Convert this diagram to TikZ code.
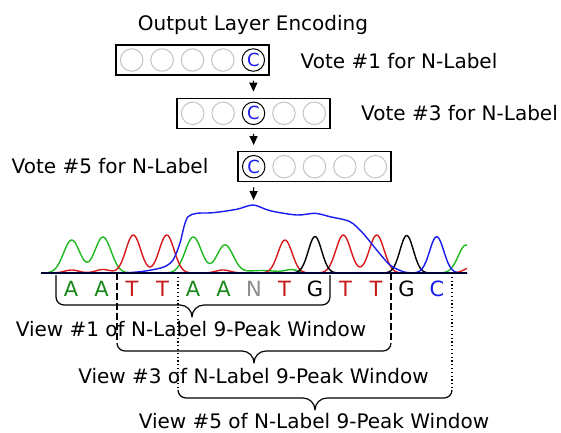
\documentclass[tikz,border=0pt]{standalone}
\usepackage{fontspec}
\setmainfont{DejaVu Sans}
\usetikzlibrary{arrows.meta,positioning,calc}

\definecolor{trgreen}{RGB}{30,185,30}
\definecolor{trred}{RGB}{215,25,25}
\definecolor{trblue}{RGB}{25,25,240}
\definecolor{bgreen}{RGB}{25,135,25}
\definecolor{bred}{RGB}{200,25,25}
\definecolor{bgray}{RGB}{140,140,140}
\definecolor{bblue}{RGB}{25,25,235}
\definecolor{cellgray}{RGB}{195,195,195}

\tikzset{
  lbl/.style={inner sep=0pt, anchor=base, font=\fontsize{20}{24}\selectfont},
  encbox/.style={draw, line width=1.3pt, minimum width=153pt, minimum height=30pt, inner sep=0pt},
  cell/.style={circle, draw=cellgray, line width=1pt, minimum size=22.5pt, inner sep=0pt},
  hit/.style={cell, draw=black, text=bblue, font=\fontsize{18}{20}\selectfont},
  basechar/.style={inner sep=0pt, anchor=base, font=\fontsize{21}{24}\selectfont},
  trace/.style={line width=1.4pt, line join=round},
  vote/.style={-{Triangle[width=8pt,length=9pt]}, line width=1.2pt},
  curl/.style={line width=1.2pt, line join=round},
}

\begin{document}
\begin{tikzpicture}[x=1pt, y=-1pt,
    declare function={pk(\t,\m,\a,\s)=\a*exp(-min(((\t-\m)/\s)^2,12));}]
    \useasboundingbox (0,0) rectangle (561,432);

    % output layer encodings
    \node[lbl] (title) at (253,30) {Output Layer Encoding};
    \node[encbox] (box1) at (192.5,60) {};
    \foreach \i in {1,...,4}
      \node[cell] (c1-\i) at ({131.7+30.4*(\i-1)},60) {};
    \node[hit] (c1-5) at (253.3,60) {C};
    \node[lbl] (vote1) at (399,68.3) {Vote \#1 for N-Label};

    \node[encbox] (box2) at (253.5,113.3) {};
    \foreach \i in {1,2,4,5}
      \node[cell] (c2-\i) at ({192.7+30.4*(\i-1)},113.3) {};
    \node[hit] (c2-3) at (253.5,113.3) {C};
    \node[lbl] (vote3) at (459.5,120.7) {Vote \#3 for N-Label};

    \node[encbox] (box3) at (314.5,166.7) {};
    \foreach \i in {2,...,5}
      \node[cell] (c3-\i) at ({253.7+30.4*(\i-1)},166.7) {};
    \node[hit] (c3-1) at (253.7,166.7) {C};
    \node[lbl] (vote5) at (110,173.3) {Vote \#5 for N-Label};

    \coordinate (top) at (253.5,205);
    \draw[vote, shorten <=5pt, shorten >=6pt] (c1-5 |- box1.south) -- (c2-3 |- box2.north);
    \draw[vote, shorten <=5pt, shorten >=6pt] (c2-3 |- box2.south) -- (c3-1 |- box3.north);
    \draw[vote, shorten <=5pt, shorten >=5pt] (c3-1 |- box3.south) -- (top);

    % traces
    \draw[trace, trgreen] plot[domain=41:467, samples=320] (\x, {273 - pk(\x,71.7,33,11.5) - pk(\x,103,36,11.5)
        - pk(\x,193.3,36,11.5) - pk(\x,225,28,11.5) - pk(\x,262,2.5,22) - pk(\x,291.7,3,9) - pk(\x,466,28,11)});
    \draw[trace, trred] plot[domain=41:467, samples=320] (\x, {273 - pk(\x,71.7,3,10) - pk(\x,103,3.5,10)
        - pk(\x,133.3,38,10.5) - pk(\x,166.7,38,10.5) - pk(\x,223,3,10) - pk(\x,285,33,10)
        - pk(\x,343.3,38,10.5) - pk(\x,376.7,38,10.5) - pk(\x,472,6,10)});
    \draw[trace, black] plot[domain=41:467, samples=320] (\x, {273 - pk(\x,315,36.5,9.5) - pk(\x,406.7,37.5,9.5)});
    \draw[trace, trblue] plot[smooth] coordinates {(41,273) (113,273) (140,271.7) (163,267.3) (173,260)
        (180,243) (184,226.7) (188,216.7) (196.7,213.3) (213,212.7) (236.7,209.3) (253.3,205) (270,210.7)
        (296.7,215) (315,213.3) (330,216.7) (350,221.7) (363,233.3) (376.7,250) (390,265) (403.3,271.7) (413,273)};
    \draw[trace, trblue] plot[domain=413:467, samples=60] (\x, {273 - pk(\x,436.7,36.3,10)});
    \draw[line width=1.3pt, black!80!blue] (41,273) -- (467,273);

    % base calls
    \foreach \b/\col [count=\i] in {A/bgreen,A/bgreen,T/bred,T/bred,A/bgreen,A/bgreen,N/bgray,
        T/bred,G/black,T/bred,T/bred,G/black,C/bblue}
      \node[basechar, text=\col] (s\i) at ({71+30.5*(\i-1)},296) {\b};

    % view #1
    \draw[curl] (56,275) -- (56,297) to[out=-90,in=180] (64,305) -- (180,305) to[out=0,in=90] (192,317)
        to[out=90,in=180] (204,305) -- (322,305) to[out=0,in=-90] (330,297) -- (330,275);
    \node[lbl] (view1) at (191,336.7) {View \#1 of N-Label 9-Peak Window};

    % view #3
    \draw[curl, dash pattern=on 7pt off 3pt] (117,273) -- (117,343);
    \draw[curl, dash pattern=on 7pt off 3pt] (391,273) -- (391,343);
    \draw[curl] (117,343) to[out=-90,in=180] (125,351) -- (242,351) to[out=0,in=90] (254,363)
        to[out=90,in=180] (266,351) -- (383,351) to[out=0,in=-90] (391,343);
    \node[lbl] (view3) at (253.5,383.3) {View \#3 of N-Label 9-Peak Window};

    % view #5
    \draw[curl, dash pattern=on 1.2pt off 2.6pt] (178,273) -- (178,390);
    \draw[curl, dash pattern=on 1.2pt off 2.6pt] (452,273) -- (452,390);
    \draw[curl] (178,390) to[out=-90,in=180] (186,398) -- (303,398) to[out=0,in=90] (315,410)
        to[out=90,in=180] (327,398) -- (444,398) to[out=0,in=-90] (452,390);
    \node[lbl] (view5) at (314,428.3) {View \#5 of N-Label 9-Peak Window};
  \end{tikzpicture}
\end{document}
